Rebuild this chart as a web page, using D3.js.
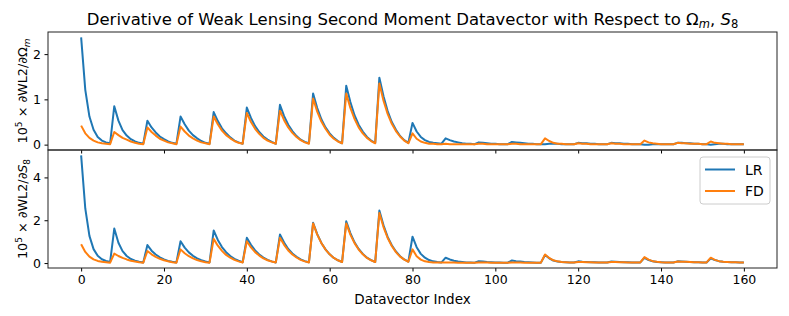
<!DOCTYPE html>
<html>
<head>
<meta charset="utf-8">
<script src="https://cdn.jsdelivr.net/npm/d3@7"></script>
<style>
  body { margin: 0; background: #fff; }
  svg { display: block; font-family: "DejaVu Sans", sans-serif; }
</style>
</head>
<body>
<svg id="chart" width="789" height="316"></svg>
<script>
// Datavector derivatives, read block by block (8 bins per block, peaks every 8 indices)
const lrOm = [
  2.37, 1.21, 0.62, 0.33, 0.17, 0.09, 0.05, 0.03,
  0.85, 0.53, 0.32, 0.20, 0.12, 0.07, 0.04, 0.02,
  0.53, 0.38, 0.27, 0.18, 0.12, 0.07, 0.04, 0.02,
  0.62, 0.45, 0.31, 0.21, 0.14, 0.08, 0.04, 0.02,
  0.72, 0.52, 0.36, 0.25, 0.16, 0.09, 0.05, 0.02,
  0.82, 0.59, 0.41, 0.28, 0.18, 0.11, 0.06, 0.02,
  0.88, 0.63, 0.44, 0.30, 0.19, 0.11, 0.06, 0.03,
  1.13, 0.81, 0.56, 0.38, 0.25, 0.15, 0.08, 0.03,
  1.30, 0.94, 0.65, 0.44, 0.29, 0.17, 0.09, 0.04,
  1.48, 1.07, 0.74, 0.50, 0.33, 0.19, 0.10, 0.04,
  0.48, 0.29, 0.17, 0.10, 0.06, 0.04, 0.03, 0.02,
  0.14, 0.10, 0.07, 0.05, 0.03, 0.02, 0.02, 0.01,
  0.05, 0.04, 0.03, 0.02, 0.02, 0.01, 0.01, 0.01,
  0.06, 0.05, 0.04, 0.03, 0.02, 0.02, 0.01, 0.01,
  0.01, 0.02, 0.02, 0.02, 0.01, 0.01, 0.01, 0.01,
  0.04, 0.03, 0.03, 0.02, 0.02, 0.01, 0.01, 0.01,
  0.04, 0.03, 0.03, 0.02, 0.02, 0.01, 0.01, 0.01,
  0.00, 0.00, 0.01, 0.01, 0.01, 0.01, 0.01, 0.01,
  0.04, 0.04, 0.03, 0.03, 0.02, 0.02, 0.01, 0.01,
  0.00, 0.01, 0.02, 0.02, 0.01, 0.01, 0.01, 0.01, 0.01
];

const fdOm = [
  0.42, 0.25, 0.15, 0.09, 0.05, 0.03, 0.02, 0.01,
  0.28, 0.21, 0.15, 0.11, 0.07, 0.04, 0.02, 0.01,
  0.38, 0.28, 0.20, 0.13, 0.09, 0.05, 0.03, 0.01,
  0.40, 0.29, 0.20, 0.14, 0.09, 0.05, 0.03, 0.01,
  0.62, 0.45, 0.31, 0.21, 0.14, 0.08, 0.04, 0.02,
  0.70, 0.50, 0.35, 0.24, 0.15, 0.09, 0.05, 0.02,
  0.75, 0.54, 0.38, 0.26, 0.17, 0.10, 0.05, 0.02,
  1.02, 0.73, 0.51, 0.35, 0.22, 0.13, 0.07, 0.03,
  1.13, 0.81, 0.57, 0.38, 0.25, 0.15, 0.08, 0.03,
  1.35, 0.97, 0.68, 0.46, 0.30, 0.18, 0.09, 0.03,
  0.25, 0.13, 0.07, 0.04, 0.02, 0.02, 0.01, 0.01,
  0.02, 0.01, 0.01, 0.01, 0.01, 0.01, 0.01, 0.01,
  0.02, 0.02, 0.01, 0.01, 0.01, 0.01, 0.01, 0.01,
  0.02, 0.02, 0.01, 0.01, 0.01, 0.01, 0.01, 0.01,
  0.14, 0.08, 0.04, 0.02, 0.02, 0.01, 0.01, 0.01,
  0.03, 0.02, 0.02, 0.01, 0.01, 0.01, 0.01, 0.01,
  0.03, 0.02, 0.02, 0.01, 0.01, 0.01, 0.01, 0.01,
  0.09, 0.05, 0.03, 0.02, 0.01, 0.01, 0.01, 0.01,
  0.04, 0.03, 0.03, 0.02, 0.02, 0.02, 0.01, 0.01,
  0.07, 0.04, 0.03, 0.02, 0.02, 0.01, 0.01, 0.01, 0.01
];

const lrS8 = [
  5.03, 2.55, 1.27, 0.65, 0.34, 0.18, 0.10, 0.05,
  1.61, 0.95, 0.56, 0.33, 0.19, 0.11, 0.06, 0.03,
  0.84, 0.58, 0.40, 0.27, 0.17, 0.10, 0.06, 0.03,
  1.02, 0.72, 0.50, 0.34, 0.22, 0.13, 0.07, 0.03,
  1.52, 1.08, 0.75, 0.51, 0.33, 0.20, 0.11, 0.04,
  1.18, 0.85, 0.59, 0.40, 0.26, 0.15, 0.08, 0.03,
  1.33, 0.96, 0.66, 0.45, 0.29, 0.17, 0.09, 0.04,
  1.88, 1.35, 0.94, 0.64, 0.41, 0.24, 0.13, 0.05,
  1.95, 1.40, 0.97, 0.66, 0.43, 0.25, 0.14, 0.05,
  2.45, 1.76, 1.22, 0.83, 0.54, 0.32, 0.17, 0.07,
  1.23, 0.74, 0.43, 0.25, 0.14, 0.08, 0.05, 0.03,
  0.25, 0.17, 0.11, 0.07, 0.05, 0.03, 0.03, 0.02,
  0.09, 0.07, 0.05, 0.04, 0.03, 0.03, 0.02, 0.02,
  0.12, 0.09, 0.07, 0.05, 0.04, 0.03, 0.02, 0.02,
  0.38, 0.22, 0.12, 0.07, 0.05, 0.04, 0.03, 0.03,
  0.08, 0.06, 0.05, 0.04, 0.04, 0.03, 0.03, 0.03,
  0.07, 0.06, 0.05, 0.04, 0.04, 0.03, 0.03, 0.03,
  0.24, 0.14, 0.08, 0.05, 0.04, 0.03, 0.03, 0.03,
  0.08, 0.07, 0.06, 0.05, 0.04, 0.04, 0.03, 0.03,
  0.22, 0.14, 0.09, 0.06, 0.05, 0.04, 0.04, 0.03, 0.03
];

const fdS8 = [
  0.88, 0.52, 0.30, 0.17, 0.10, 0.06, 0.04, 0.02,
  0.44, 0.33, 0.24, 0.17, 0.11, 0.07, 0.04, 0.02,
  0.56, 0.41, 0.29, 0.20, 0.13, 0.08, 0.04, 0.02,
  0.64, 0.46, 0.32, 0.22, 0.14, 0.08, 0.04, 0.02,
  1.13, 0.81, 0.57, 0.38, 0.25, 0.15, 0.08, 0.03,
  1.02, 0.73, 0.51, 0.35, 0.22, 0.13, 0.07, 0.03,
  1.18, 0.85, 0.59, 0.40, 0.26, 0.15, 0.08, 0.03,
  1.85, 1.33, 0.93, 0.63, 0.41, 0.24, 0.13, 0.05,
  1.85, 1.33, 0.93, 0.63, 0.41, 0.24, 0.13, 0.05,
  2.34, 1.68, 1.17, 0.80, 0.51, 0.30, 0.16, 0.06,
  0.64, 0.32, 0.16, 0.08, 0.05, 0.03, 0.03, 0.03,
  0.03, 0.03, 0.03, 0.02, 0.02, 0.02, 0.02, 0.02,
  0.03, 0.03, 0.03, 0.02, 0.02, 0.02, 0.02, 0.02,
  0.03, 0.03, 0.03, 0.02, 0.02, 0.02, 0.02, 0.02,
  0.40, 0.24, 0.13, 0.08, 0.05, 0.04, 0.03, 0.03,
  0.05, 0.05, 0.04, 0.04, 0.03, 0.03, 0.03, 0.03,
  0.05, 0.05, 0.04, 0.04, 0.03, 0.03, 0.03, 0.03,
  0.28, 0.16, 0.09, 0.06, 0.04, 0.03, 0.03, 0.03,
  0.07, 0.06, 0.06, 0.05, 0.04, 0.04, 0.03, 0.03,
  0.25, 0.15, 0.09, 0.06, 0.05, 0.04, 0.04, 0.03, 0.03
];

const xTicks = [0, 20, 40, 60, 80, 100, 120, 140, 160];
const omTicks = [0, 1, 2];
const s8Ticks = [0, 2, 4];
const seriesNames = ["LR", "FD"];
const seriesColors = ["#1f77b4", "#ff7f0e"];

const svg = d3.select("#chart");
const margin = { left: 48, right: 12, top: 32, bottom: 48 };
const width = 789, height = 316;
const panelH = (height - margin.top - margin.bottom) / 2;

// matplotlib-style 5% padding around the data range
function padded(lo, hi) {
  const p = (hi - lo) * 0.05;
  return [lo - p, hi + p];
}

const x = d3.scaleLinear()
  .domain(padded(0, lrOm.length - 1))
  .range([margin.left, width - margin.right]);

const panels = [
  { top: margin.top, series: [lrOm, fdOm], ticks: omTicks, label: "Om" },
  { top: margin.top + panelH, series: [lrS8, fdS8], ticks: s8Ticks, label: "S8" }
];

panels.forEach((p, k) => {
  const all = p.series.flat();
  const y = d3.scaleLinear()
    .domain(padded(d3.min(all), d3.max(all)))
    .range([p.top + panelH, p.top]);

  const g = svg.append("g");

  const line = d3.line()
    .x((d, i) => x(i))
    .y((d) => y(d));

  p.series.forEach((s, j) => {
    g.append("path")
      .datum(s)
      .attr("fill", "none")
      .attr("stroke", seriesColors[j])
      .attr("stroke-width", 2)
      .attr("stroke-linejoin", "round")
      .attr("d", line);
  });

  // y axis
  const yAxis = g.append("g")
    .attr("transform", `translate(${margin.left},0)`)
    .call(d3.axisLeft(y).tickValues(p.ticks).tickSize(3.5).tickPadding(3.5).tickFormat(d3.format("d")));
  yAxis.select(".domain").remove();
  yAxis.selectAll("text").attr("font-size", 12.5).attr("fill", "#000").attr("font-family", "DejaVu Sans");
  yAxis.selectAll("line").attr("stroke", "#000");

  // x axis ticks on each panel; labels only on the bottom one
  const xAxis = g.append("g")
    .attr("transform", `translate(0,${p.top + panelH})`)
    .call(d3.axisBottom(x).tickValues(xTicks).tickSize(3.5).tickPadding(3.5));
  xAxis.select(".domain").remove();
  xAxis.selectAll("line").attr("stroke", "#000");
  xAxis.selectAll("text").attr("font-size", 12.5).attr("fill", "#000").attr("font-family", "DejaVu Sans");
  if (k === 0) xAxis.selectAll("text").remove();

  // frame
  g.append("rect")
    .attr("x", margin.left)
    .attr("y", p.top)
    .attr("width", width - margin.left - margin.right)
    .attr("height", panelH)
    .attr("fill", "none")
    .attr("stroke", "#222")
    .attr("stroke-width", 1);

  // rotated y label
  const lab = svg.append("text")
    .attr("transform", `translate(27,${p.top + panelH / 2}) rotate(-90)`)
    .attr("text-anchor", "middle")
    .attr("font-size", 12.8);
  lab.append("tspan").text("10");
  lab.append("tspan").attr("dy", -5).attr("font-size", 9).text("5");
  lab.append("tspan").attr("dy", 5).text(" × ∂WL2/∂");
  if (p.label === "Om") {
    lab.append("tspan").text("Ω");
    lab.append("tspan").attr("dy", 3).attr("font-size", 9).attr("font-style", "italic").text("m");
  } else {
    lab.append("tspan").attr("font-style", "italic").text("S");
    lab.append("tspan").attr("dy", 3).attr("font-size", 9).text("8");
  }

  // legend in the lower panel
  if (k === 1) {
    const lg = svg.append("g").attr("transform", `translate(${width - margin.right - 77},${p.top + 7})`);
    lg.append("rect")
      .attr("width", 70).attr("height", 47)
      .attr("rx", 3)
      .attr("fill", "#fff").attr("fill-opacity", 0.8)
      .attr("stroke", "#ccc");
    seriesNames.forEach((name, j) => {
      const yy = 12.5 + j * 21.5;
      lg.append("line")
        .attr("x1", 5).attr("x2", 35).attr("y1", yy).attr("y2", yy)
        .attr("stroke", seriesColors[j]).attr("stroke-width", 2);
      lg.append("text")
        .attr("x", 45).attr("y", yy + 5)
        .attr("font-size", 14)
        .text(name);
    });
  }
});

// title
const title = svg.append("text")
  .attr("x", (margin.left + width - margin.right) / 2)
  .attr("y", 25)
  .attr("text-anchor", "middle")
  .attr("font-size", 16.5);
title.append("tspan").text("Derivative of Weak Lensing Second Moment Datavector with Respect to Ω");
title.append("tspan").attr("dy", 3).attr("font-size", 11.5).attr("font-style", "italic").text("m");
title.append("tspan").attr("dy", -3).text(",  ");
title.append("tspan").attr("font-style", "italic").text("S");
title.append("tspan").attr("dy", 3).attr("font-size", 11.5).text("8");

// x label
svg.append("text")
  .attr("x", (margin.left + width - margin.right) / 2)
  .attr("y", height - 12)
  .attr("text-anchor", "middle")
  .attr("font-size", 13.5)
  .text("Datavector Index");
</script>
</body>
</html>
